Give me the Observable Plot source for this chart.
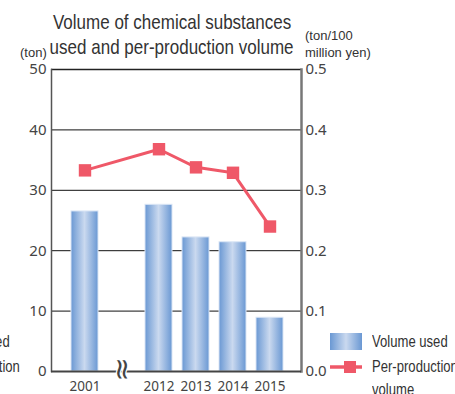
<!DOCTYPE html>
<html><head><meta charset="utf-8">
<script src="https://cdn.jsdelivr.net/npm/d3@7"></script>
<script src="https://cdn.jsdelivr.net/npm/@observablehq/plot@0.6"></script>
<style>
body{margin:0;background:#fff;}
#wrap{position:relative;width:455px;height:394px;overflow:hidden;color:#333;font-family:"Liberation Sans",Arial,sans-serif;}
.title{position:absolute;left:0;width:344px;top:9px;text-align:center;font-size:21px;line-height:25px;color:#333;}
.title span{display:inline-block;transform:scaleX(0.81);transform-origin:center;white-space:nowrap;}
.unit{position:absolute;font-size:13px;line-height:17px;color:#333;white-space:nowrap;}
#chart{position:absolute;left:0;top:58px;}
.leg{position:absolute;font-size:17px;line-height:23px;color:#333;white-space:nowrap;transform:scaleX(0.77);transform-origin:left top;}
.sw{position:absolute;}
</style></head><body>
<div id="wrap">
  <div class="title"><span>Volume of chemical substances</span><br><span>used and per-production volume</span></div>
  <div class="unit" style="left:20px;top:44px;">(ton)</div>
  <div class="unit" style="left:305px;top:27px;">(ton/100<br>million yen)</div>
  <div id="chart"></div>
  <svg class="sw" style="left:330px;top:333px" width="32" height="44">
    <defs><linearGradient id="legGrad" x1="0" x2="1" y1="0" y2="0">
      <stop offset="0" stop-color="#6a98d3"/><stop offset="0.5" stop-color="#cad9ef"/><stop offset="1" stop-color="#6a98d3"/>
    </linearGradient></defs>
    <rect x="0" y="0" width="32" height="17" fill="url(#legGrad)"/>
    <line x1="0" x2="32" y1="34" y2="34" stroke="#ef5868" stroke-width="3.5"/>
    <rect x="14" y="28" width="12" height="12" fill="#ef5868"/>
  </svg>
  <div class="leg" style="left:372px;top:330px;">Volume used</div>
  <div class="leg" style="left:372px;top:355px;">Per-production<br>volume</div>
  <div class="leg" style="left:-66px;top:330px;">Volume used</div>
  <div class="leg" style="left:-66px;top:355px;">Per-production<br>volume</div>
</div>
<script>
const years = ["2001", "2012", "2013", "2014", "2015"];
const breakSlot = "~";
const volumeUsed = [26.5, 27.6, 22.2, 21.4, 8.9];          // ton
const perProduction = [0.333, 0.368, 0.338, 0.329, 0.240]; // ton / 100 million yen
const leftTicks = [0, 10, 20, 30, 40, 50];
const rightTickLabels = ["0.0", "0.1", "0.2", "0.3", "0.4", "0.5"];
const gridValues = [10, 20, 30, 40];
const rightToLeft = 100; // 0.5 on right axis ↔ 50 on left axis

const data = years.map((year, i) => ({year, volume: volumeUsed[i], per: perProduction[i]}));
const xDomain = [years[0], breakSlot, ...years.slice(1)];
const red = "#ef5868";
const labelFont = "'Noto Sans', 'DejaVu Sans', sans-serif";

const chart = Plot.plot({
  width: 455,
  height: 336,
  marginLeft: 51,
  marginRight: 154,
  marginTop: 11,
  marginBottom: 23,
  style: {fontFamily: labelFont, background: "transparent", overflow: "visible", color: "#444"},
  x: {type: "band", domain: xDomain, padding: 0.26, insetLeft: 10, insetRight: 8, label: null},
  y: {domain: [0, 50], label: null},
  marks: [
    () => {
      const defs = d3.create("svg:defs");
      const g = defs.append("linearGradient").attr("id", "barGrad").attr("x1", 0).attr("x2", 1).attr("y1", 0).attr("y2", 0);
      g.append("stop").attr("offset", 0).attr("stop-color", "#6a98d3");
      g.append("stop").attr("offset", 0.5).attr("stop-color", "#cad9ef");
      g.append("stop").attr("offset", 1).attr("stop-color", "#6a98d3");
      return defs.node();
    },
    Plot.ruleY(gridValues, {stroke: "#111", strokeWidth: 1}),
    Plot.barY(data, {x: "year", y: "volume", fill: "url(#barGrad)", stroke: "#dbe6f5", strokeWidth: 1}),
    Plot.ruleY([50], {stroke: "#222", strokeWidth: 1.5}),
    Plot.frame({anchor: "left", stroke: "#555", strokeWidth: 1.5}),
    Plot.frame({anchor: "right", stroke: "#777", strokeWidth: 2.5}),
    Plot.ruleY([0], {stroke: "#444", strokeWidth: 2}),
    Plot.lineY(data, {x: "year", y: d => d.per * rightToLeft, stroke: red, strokeWidth: 3}),
    Plot.dot(data, {x: "year", y: d => d.per * rightToLeft, symbol: "square", r: 7, fill: red}),
    Plot.axisY({anchor: "left", ticks: leftTicks, tickSize: 0, tickPadding: 5, fontSize: 15, label: null}),
    Plot.axisY({anchor: "right", ticks: leftTicks, tickFormat: (d, i) => rightTickLabels[i], tickSize: 0, tickPadding: 4, fontSize: 15, label: null}),
    Plot.axisX({ticks: years, tickSize: 0, tickPadding: 10, fontSize: 13.5, label: null}),
    Plot.text([breakSlot], {x: d => d, y: 0, text: () => "≈", rotate: 90, fontSize: 29, fill: "#444", stroke: "white", strokeWidth: 2.5, paintOrder: "stroke", dy: -2, fontFamily: "DejaVu Sans"})
  ]
});
document.getElementById("chart").appendChild(chart);
</script>
</body></html>
